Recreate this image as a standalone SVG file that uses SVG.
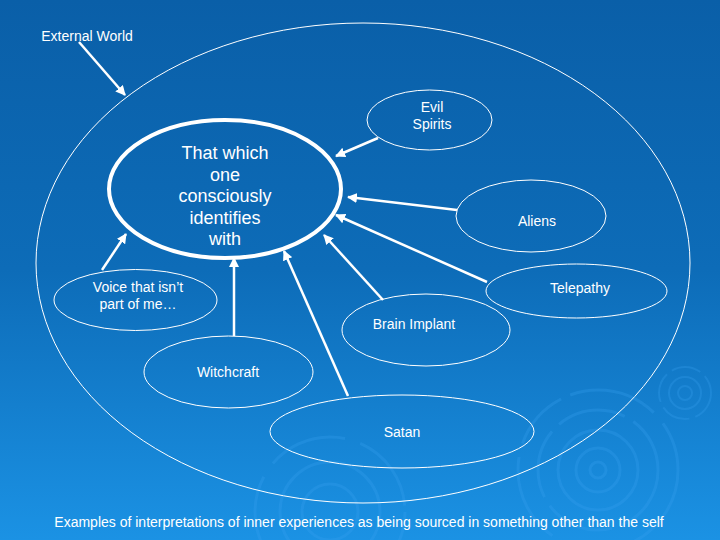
<svg xmlns="http://www.w3.org/2000/svg" width="720" height="540" viewBox="0 0 720 540">
  <defs>
    <linearGradient id="bg" x1="0" y1="0" x2="0" y2="1">
      <stop offset="0" stop-color="#0a5fa8"/>
      <stop offset="0.5" stop-color="#0d6cb8"/>
      <stop offset="1" stop-color="#1b92e4"/>
    </linearGradient>
    <marker id="arr" viewBox="0 0 10 10" refX="9" refY="5" markerWidth="4" markerHeight="4" orient="auto" markerUnits="strokeWidth">
      <path d="M0,0 L10,5 L0,10 z" fill="#ffffff"/>
    </marker>
  </defs>
  <style>
    .t { font-family: "Liberation Sans", Arial, sans-serif; fill: #ffffff; text-anchor: middle; }
    .s14 { font-size: 14px; }
    .s18 { font-size: 18px; }
    .node { fill: none; stroke: #ffffff; stroke-width: 1; }
    .conn { stroke: #ffffff; stroke-width: 2.5; fill: none; marker-end: url(#arr); }
    .rip { fill: none; stroke: #3aa2ef; opacity: 0.28; }
  </style>
  <rect width="720" height="540" fill="url(#bg)"/>
  <g id="ripples">
    <circle class="rip" cx="598" cy="470" r="80" stroke-width="3" stroke-dasharray="90 14 60 10"/>
    <circle class="rip" cx="598" cy="470" r="60" stroke-width="3" stroke-dasharray="70 10"/>
    <circle class="rip" cx="598" cy="470" r="40" stroke-width="3"/>
    <circle class="rip" cx="598" cy="470" r="22" stroke-width="3"/>
    <circle class="rip" cx="598" cy="470" r="8" stroke-width="3"/>
    <circle class="rip" cx="685" cy="393" r="26" stroke-width="2" stroke-dasharray="30 6"/>
    <circle class="rip" cx="685" cy="393" r="16" stroke-width="2"/>
    <circle class="rip" cx="685" cy="393" r="7" stroke-width="2"/>
    <circle class="rip" cx="330" cy="512" r="75" stroke-width="3" stroke-dasharray="80 16"/>
    <circle class="rip" cx="330" cy="512" r="50" stroke-width="3"/>
    <circle class="rip" cx="330" cy="512" r="28" stroke-width="3"/>
  </g>
  <g id="external-world">
    <ellipse class="node" cx="363" cy="263" rx="327" ry="240"/>
    <text class="t s14" x="87" y="41">External World</text>
  </g>
  <g id="self">
    <ellipse cx="225" cy="189" rx="116" ry="69" fill="none" stroke="#ffffff" stroke-width="4"/>
    <text class="t s18" x="225" y="159">That which</text>
    <text class="t s18" x="225" y="180.5">one</text>
    <text class="t s18" x="225" y="202">consciously</text>
    <text class="t s18" x="225" y="223.5">identifies</text>
    <text class="t s18" x="225" y="245">with</text>
  </g>
  <g id="evil-spirits">
    <ellipse class="node" cx="429.5" cy="120" rx="62.5" ry="30"/>
    <text class="t s14" x="432" y="112">Evil</text>
    <text class="t s14" x="432" y="129">Spirits</text>
  </g>
  <g id="aliens">
    <ellipse class="node" cx="531" cy="216" rx="75" ry="36"/>
    <text class="t s14" x="537" y="226">Aliens</text>
  </g>
  <g id="telepathy">
    <ellipse class="node" cx="576.5" cy="291" rx="90.5" ry="27"/>
    <text class="t s14" x="580" y="293">Telepathy</text>
  </g>
  <g id="brain-implant">
    <ellipse class="node" cx="426" cy="330" rx="84" ry="36"/>
    <text class="t s14" x="414" y="329">Brain Implant</text>
  </g>
  <g id="voice">
    <ellipse class="node" cx="135.5" cy="300" rx="81.5" ry="30.5"/>
    <text class="t s14" x="138" y="292">Voice that isn’t</text>
    <text class="t s14" x="138" y="309">part of me…</text>
  </g>
  <g id="witchcraft">
    <ellipse class="node" cx="228.5" cy="372" rx="84.5" ry="36"/>
    <text class="t s14" x="228" y="377">Witchcraft</text>
  </g>
  <g id="satan">
    <ellipse class="node" cx="402" cy="431.5" rx="132" ry="36.5"/>
    <text class="t s14" x="402" y="437">Satan</text>
  </g>
  <g id="connectors">
    <line class="conn" x1="79" y1="42" x2="125" y2="95"/>
    <line class="conn" x1="378" y1="138" x2="336" y2="156"/>
    <line class="conn" x1="457" y1="210" x2="348" y2="197"/>
    <line class="conn" x1="487" y1="282" x2="336" y2="215"/>
    <line class="conn" x1="383" y1="300" x2="324" y2="235"/>
    <line class="conn" x1="348" y1="396" x2="284" y2="251"/>
    <line class="conn" x1="234" y1="336" x2="234" y2="258"/>
    <line class="conn" x1="102" y1="270" x2="126" y2="234"/>
  </g>
  <g id="caption">
    <text class="t s14" x="359" y="527">Examples of interpretations of inner experiences as being sourced in something other than the self</text>
  </g>
</svg>
